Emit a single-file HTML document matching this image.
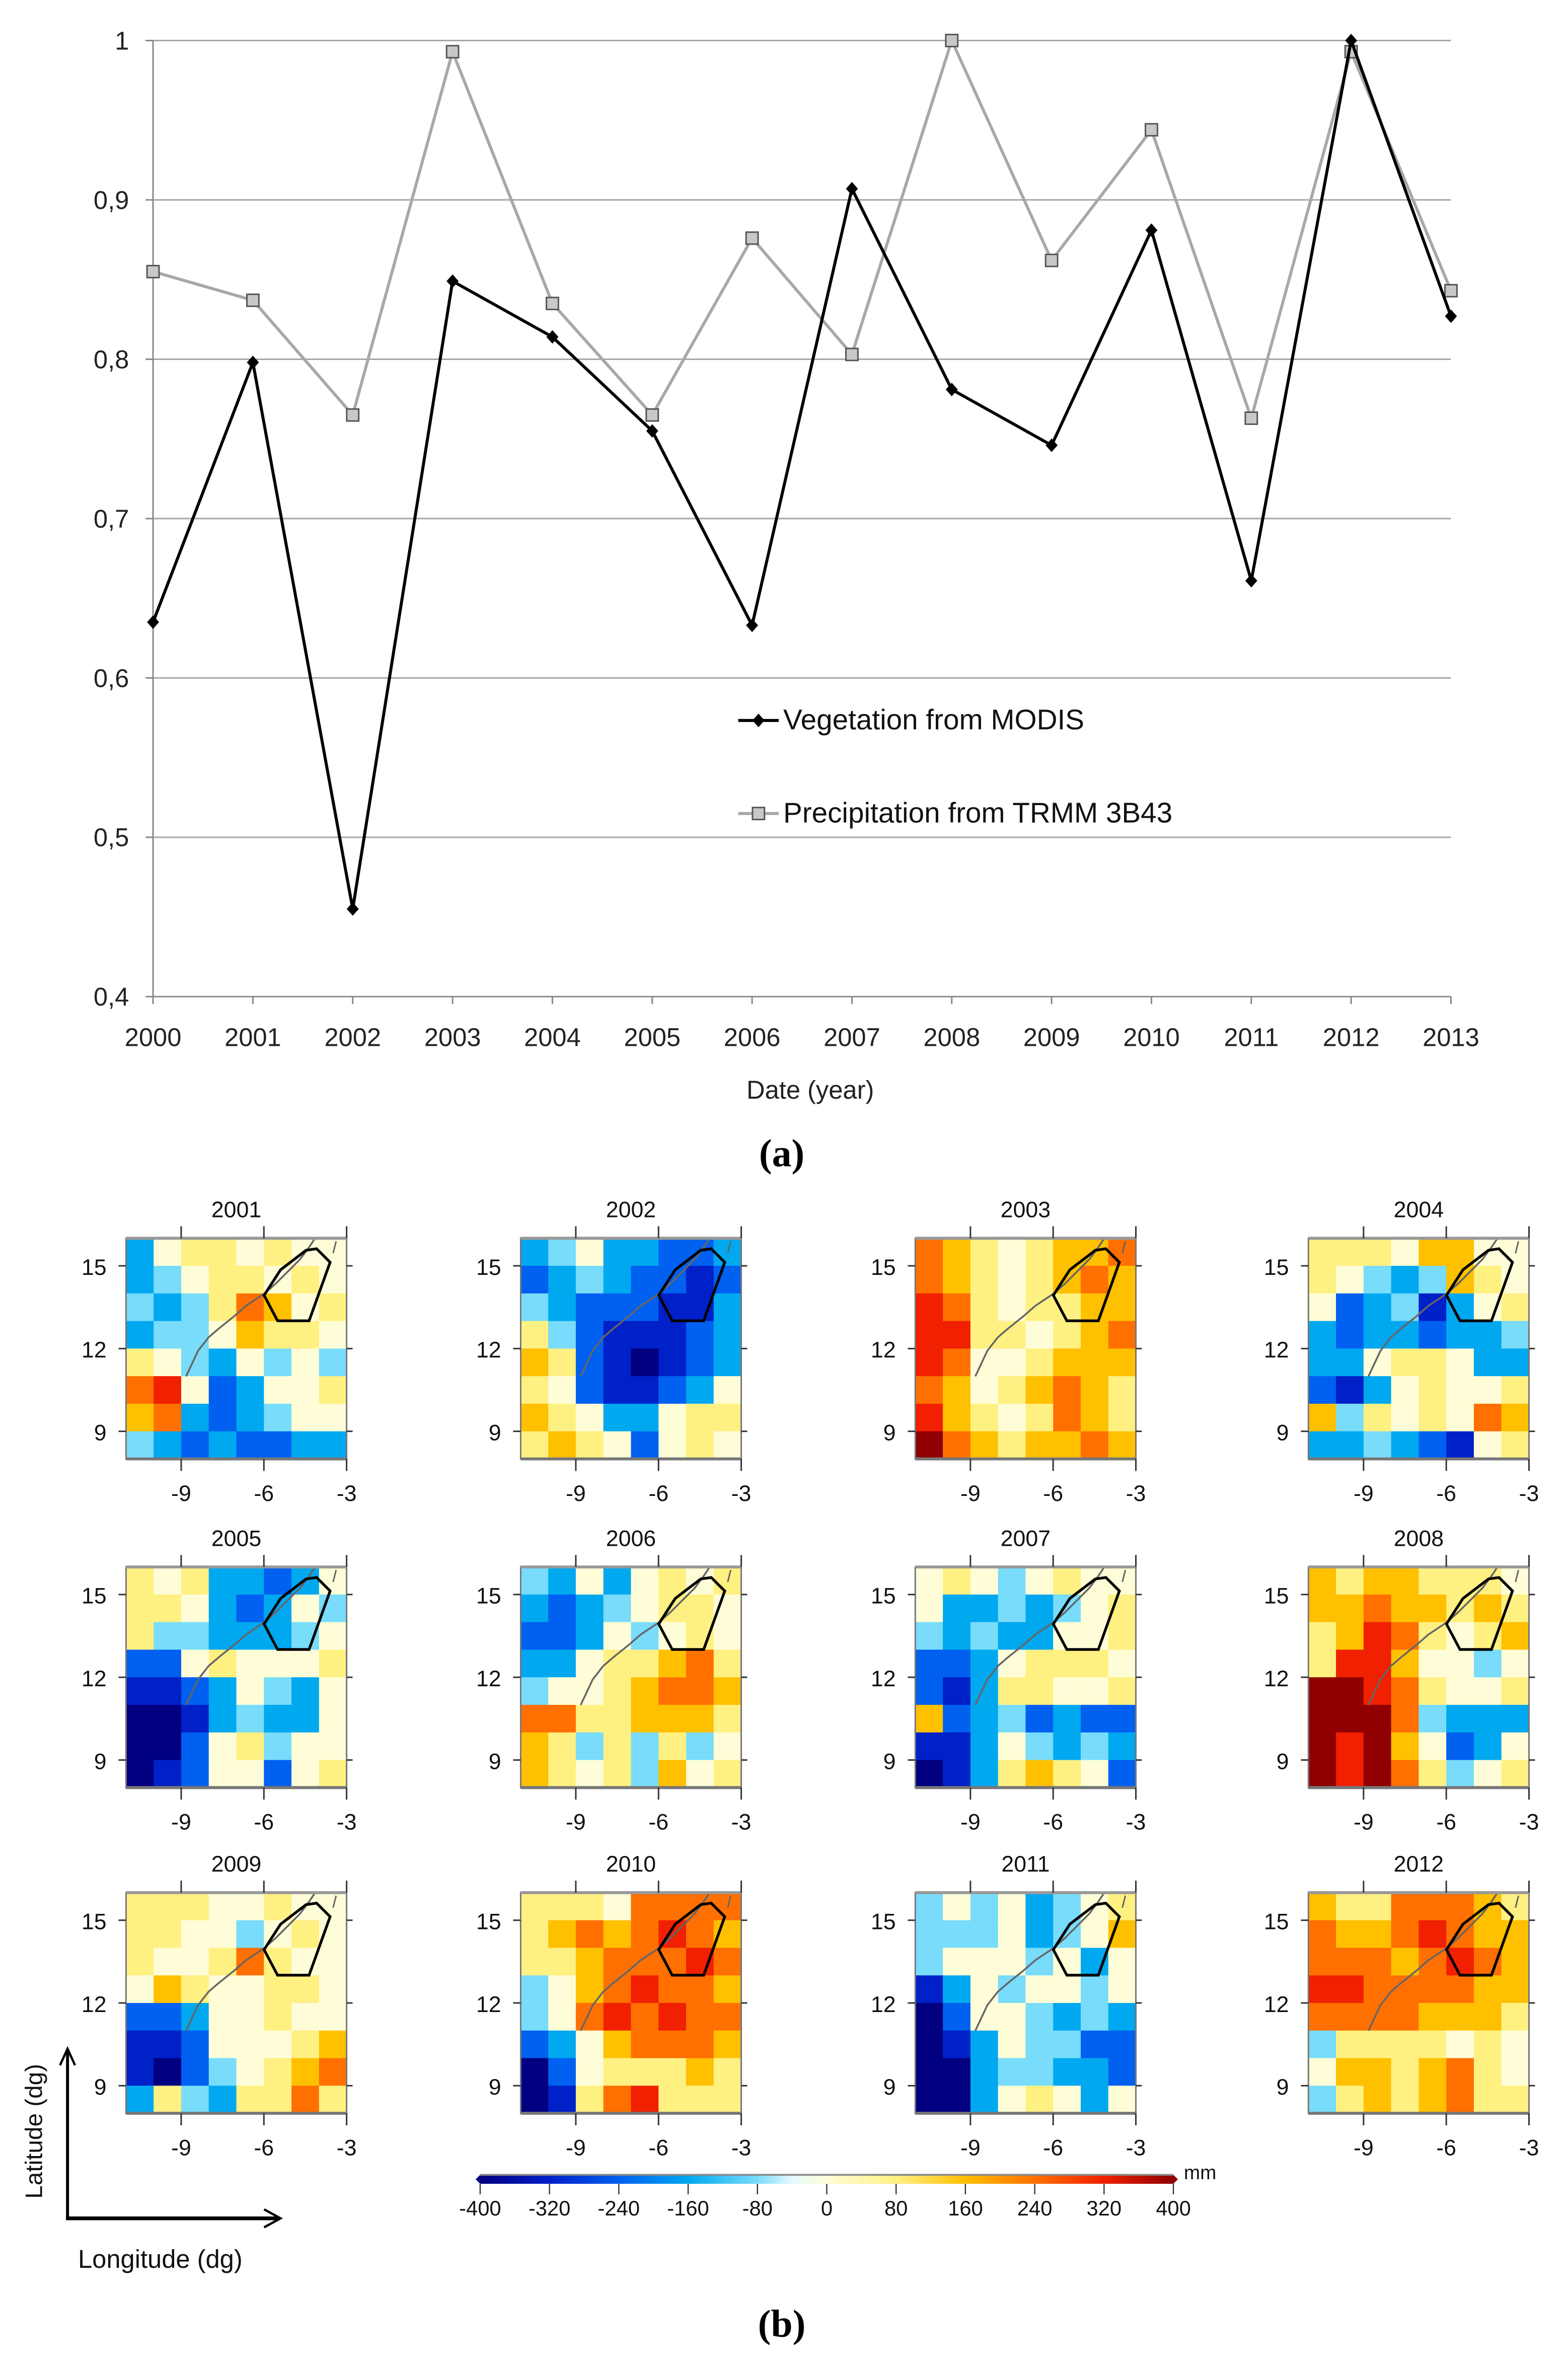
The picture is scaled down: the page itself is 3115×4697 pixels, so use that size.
<!DOCTYPE html>
<html><head><meta charset="utf-8">
<style>
html,body{margin:0;padding:0;background:#fff;}
svg{display:block;}
text{font-family:"Liberation Sans",sans-serif;}
text.serif{font-family:"Liberation Serif",serif;}
</style></head>
<body>
<svg id="fig" xmlns="http://www.w3.org/2000/svg" width="3115" height="4697" viewBox="0 0 1045 1575.7">
<rect x="0" y="0" width="1045" height="1576" fill="#fff"/>
<g id="chartA"></g>
<g id="maps"></g>
</svg>
<script>
// ---- Chart (a) data ----
const years = [2000,2001,2002,2003,2004,2005,2006,2007,2008,2009,2010,2011,2012,2013];
const vegetation = [0.635,0.798,0.455,0.849,0.814,0.755,0.633,0.907,0.781,0.746,0.881,0.661,1.0,0.827];
const precipitation = [0.855,0.837,0.765,0.993,0.835,0.765,0.876,0.803,1.0,0.862,0.944,0.763,0.993,0.843];
const yTicks = [0.4,0.5,0.6,0.7,0.8,0.9,1.0];
const yTickLabels = ["0,4","0,5","0,6","0,7","0,8","0,9","1"];

// ---- Maps (b) data: 8x8 anomaly grids (units of 80 mm), rows north->south ----
const mapYears = [2001,2002,2003,2004,2005,2006,2007,2008,2009,2010,2011,2012];
const grid2001 = [[-2,0,1,1,0,1,0,0],[-2,-1,0,1,1,0,1,0],[-1,-2,-1,1,3,2,0,1],[-2,-1,-1,0,2,1,1,0],[1,0,-1,-2,0,-1,0,-1],[3,4,0,-3,-2,0,0,1],[2,3,-2,-3,-2,-1,0,0],[-1,-2,-3,-2,-3,-3,-2,-2]];
const grid2002 = [[-2,-1,0,-2,-2,-3,-3,-2],[-3,-2,-1,-2,-3,-3,-4,-3],[-1,-2,-3,-3,-3,-4,-4,-2],[1,-1,-3,-4,-4,-4,-3,-2],[2,1,-3,-4,-5,-4,-3,-2],[1,0,-3,-4,-4,-3,-2,0],[2,1,0,-2,-2,0,1,1],[1,2,1,0,-3,0,1,0]];
const grid2003 = [[3,2,1,0,1,2,2,3],[3,2,1,0,1,2,3,2],[4,3,1,0,1,1,2,2],[4,4,1,1,0,1,2,3],[4,3,0,0,1,2,2,2],[3,2,0,1,2,3,2,1],[4,2,1,0,1,3,2,1],[5,3,2,1,2,2,3,2]];
const grid2004 = [[1,1,1,0,2,2,0,0],[1,0,-1,-2,-1,2,1,0],[0,-3,-2,-1,-4,-2,0,1],[-2,-3,-2,-2,-3,-2,-2,-1],[-2,-2,0,1,1,0,-2,-2],[-3,-4,-2,0,1,0,0,1],[2,-1,1,0,1,0,3,2],[-2,-2,-1,-2,-3,-4,0,1]];
const grid2005 = [[1,0,1,-2,-2,-3,-2,0],[1,1,0,-2,-3,-2,0,-1],[1,-1,-1,-2,-2,-2,-1,0],[-3,-3,0,1,0,0,0,1],[-4,-4,-3,-2,0,-1,-2,0],[-5,-5,-4,-2,-1,-2,-2,0],[-5,-5,-3,0,1,-1,0,0],[-5,-4,-3,0,0,-3,0,1]];
const grid2006 = [[-1,-2,0,-2,0,1,0,1],[-2,-3,-2,-1,0,1,1,0],[-3,-3,-2,0,-1,0,1,0],[-2,-2,0,1,1,2,3,1],[-1,0,0,1,2,3,3,2],[3,3,1,1,2,2,2,1],[2,1,-1,1,-1,1,-1,0],[2,1,0,1,-1,2,0,1]];
const grid2007 = [[0,1,0,-1,0,1,0,0],[0,-2,-2,-1,-2,-1,0,1],[-1,-2,-1,-2,-2,0,0,1],[-3,-3,-2,0,1,1,1,0],[-3,-4,-2,1,1,0,0,1],[2,-3,-2,-1,-3,-2,-3,-3],[-4,-4,-2,0,-1,-2,-1,-2],[-5,-4,-2,1,2,1,0,-3]];
const grid2008 = [[2,1,2,2,1,1,1,0],[2,2,3,2,2,1,2,1],[1,2,4,3,1,0,1,2],[1,4,4,2,0,0,-1,0],[5,5,4,3,1,0,0,1],[5,5,5,3,-1,-2,-2,-2],[5,4,5,2,0,-3,-2,0],[5,4,5,3,1,-1,0,1]];
const grid2009 = [[1,1,1,0,0,1,0,0],[1,1,0,0,-1,0,1,0],[1,0,0,1,3,1,0,0],[0,2,1,0,0,1,1,0],[-3,-3,-2,0,0,1,0,0],[-4,-4,-3,0,0,0,1,2],[-4,-5,-3,-1,0,1,2,3],[-2,1,-1,-2,1,1,3,1]];
const grid2010 = [[1,1,1,0,3,3,3,3],[1,2,3,2,3,4,3,2],[1,1,2,3,3,3,4,3],[-1,0,2,3,4,3,3,2],[-1,0,3,4,3,4,3,3],[-3,-2,0,2,3,3,3,2],[-5,-3,0,1,1,1,2,1],[-5,-4,1,3,4,1,1,1]];
const grid2011 = [[-1,0,-1,0,-2,-1,0,1],[-1,-1,-1,0,-2,-1,0,2],[-1,0,0,0,-1,0,-2,0],[-4,-2,0,-1,0,0,-1,0],[-5,-3,0,0,-1,-2,-1,-2],[-5,-4,-2,0,-1,-1,-3,-3],[-5,-5,-2,-1,-1,-2,-2,-3],[-5,-5,-2,0,1,0,-2,0]];
const grid2012 = [[2,1,1,3,3,3,2,1],[3,2,2,3,4,3,2,2],[3,3,3,2,3,4,3,2],[4,4,3,3,3,3,2,2],[3,3,3,3,2,2,2,1],[-1,1,1,1,1,0,1,0],[0,2,2,1,2,3,1,0],[-1,1,2,1,2,3,1,1]];
const grids = [grid2001,grid2002,grid2003,grid2004,grid2005,grid2006,grid2007,grid2008,grid2009,grid2010,grid2011,grid2012];
const lonTicks = [-9,-6,-3];
const latTicks = [15,12,9];
const cbarTicks = [-400,-320,-240,-160,-80,0,80,160,240,320,400];

const NS="http://www.w3.org/2000/svg";
function mk(tag, attrs, parent){const e=document.createElementNS(NS,tag);for(const k in attrs)e.setAttribute(k,attrs[k]);parent.appendChild(e);return e;}

// ---------- Chart (a) ----------
const A=document.getElementById('chartA');
const x0=102,x1=967,yTop=27,yBot=664;
const xs=i=>x0+(x1-x0)*i/(years.length-1);
const ys=v=>yBot-(v-0.4)/(1.0-0.4)*(yBot-yTop);
yTicks.forEach((t,i)=>{
  const g=mk('line',{x1:x0,x2:x1,y1:ys(t),y2:ys(t),stroke:i===0?'#888':'#a6a6a6','stroke-width':1},A);
  
  
  const tk=mk('line',{x1:x0-5,x2:x0,y1:ys(t),y2:ys(t),stroke:'#888','stroke-width':1},A);
  
  
  const tx=mk('text',{x:x0-16,y:ys(t)+6,'text-anchor':'end','font-size':17,fill:'#222'},A);
  tx.textContent=yTickLabels[i];
  
  
});
const yax=mk('line',{x1:x0,x2:x0,y1:yTop,y2:yBot,stroke:'#888','stroke-width':1},A);


years.forEach((yr,i)=>{
  const tk=mk('line',{x1:xs(i),x2:xs(i),y1:yBot,y2:yBot+5,stroke:'#888'},A);
  
  
  const t=mk('text',{x:xs(i),y:yBot+33,'text-anchor':'middle','font-size':17,fill:'#222'},A);
  t.textContent=yr;
  
  
});
const xt=mk('text',{x:540,y:732,'text-anchor':'middle','font-size':17,fill:'#222'},A);
xt.textContent='Date (year)';



function series(vals,color,marker,name){
  const pts=vals.map((v,i)=>xs(i)+','+ys(v)).join(' ');
  const pl=mk('polyline',{points:pts,fill:'none',stroke:color,'stroke-width':2},A);
  
  
  vals.forEach((v,i)=>{
    let m;
    if(marker==='diamond'){
      const cx=xs(i),cy=ys(v);
      m=mk('polygon',{points:`${cx},${cy-4.5} ${cx+4},${cy} ${cx},${cy+4.5} ${cx-4},${cy}`,fill:'#000'},A);
    }else{
      m=mk('rect',{x:xs(i)-4,y:ys(v)-4,width:8,height:8,fill:'#c8c8c8',stroke:'#555','stroke-width':1},A);
    }
    
    
  });
}
series(precipitation,'#a8a8a8','square','precipitation');
series(vegetation,'#000','diamond','vegetation');

// legend
const lg1=mk('g',{},A);


mk('line',{x1:492,x2:519,y1:480,y2:480,stroke:'#000','stroke-width':2},lg1);
mk('polygon',{points:'505.5,475.5 509.5,480 505.5,484.5 501.5,480',fill:'#000'},lg1);
const l1=mk('text',{x:522,y:486,'font-size':19,fill:'#111'},lg1);l1.textContent='Vegetation from MODIS';
const lg2=mk('g',{},A);


mk('line',{x1:492,x2:519,y1:542,y2:542,stroke:'#a8a8a8','stroke-width':2},lg2);
mk('rect',{x:501.5,y:538,width:8,height:8,fill:'#c8c8c8',stroke:'#555'},lg2);
const l2=mk('text',{x:522,y:548,'font-size':19,fill:'#111'},lg2);l2.textContent='Precipitation from TRMM 3B43';
const pa=mk('text',{x:521,y:777,'text-anchor':'middle','font-size':26,'font-weight':'bold',fill:'#000','class':'serif'},A);
pa.textContent='(a)';



// ---------- Maps (b) ----------
const stops=[[-400,[0,0,128]],[-320,[0,32,200]],[-240,[0,96,240]],[-160,[0,168,240]],[-80,[120,220,250]],[-40,[230,250,255]],[0,[255,253,215]],[80,[255,240,130]],[160,[255,192,0]],[240,[255,112,0]],[320,[240,32,0]],[400,[144,0,0]]];
function col(mm){
  mm=Math.max(-400,Math.min(400,mm));
  for(let i=0;i<stops.length-1;i++){
    const [a,ca]=stops[i],[b,cb]=stops[i+1];
    if(mm>=a&&mm<=b){const t=(mm-a)/(b-a);return 'rgb('+ca.map((c,k)=>Math.round(c+(cb[k]-c)*t)).join(',')+')';}
  }
  return '#fff';
}
const M=document.getElementById('maps');
const colX=[84,347,610,872], rowY=[825,1044,1261], S=147;
const lonToX=(lon,px)=>px+(lon+11)/8*S;
const latToY=(lat,py)=>py+(16-lat)/8*S;
mapYears.forEach((yr,idx)=>{
  const px=colX[idx%4], py=rowY[Math.floor(idx/4)];
  const g=mk('g',{},M);
  
  
  const grid=grids[idx], n=grid.length, cw=S/grid[0].length, ch=S/n;
  grid.forEach((row,r)=>row.forEach((v,c)=>{
    const cell=mk('rect',{x:px+c*cw,y:py+r*ch,width:cw+0.3,height:ch+0.3,fill:col(v*80)},g);
    
    
  }));
  mk('polyline',{points:[[40,92],[48,75],[55,66],[62,60],[72,52],[80,45],[92,37],[100,30],[108,22],[116,14],[122,6],[126,0]].map(p=>(px+p[0])+','+(py+p[1])).join(' '),fill:'none',stroke:'#666','stroke-width':1.2},g);
  mk('polyline',{points:[[140,2],[138,10]].map(p=>(px+p[0])+','+(py+p[1])).join(' '),fill:'none',stroke:'#666','stroke-width':1},g);
  const poly=mk('polygon',{points:[[127,7],[136,16],[122,55],[101,55],[92,38],[103,21],[120,8]].map(p=>(px+p[0])+','+(py+p[1])).join(' '),fill:'none',stroke:'#000','stroke-width':1.8},g);
  
  
  mk('rect',{x:px,y:py,width:S,height:S,fill:'none',stroke:'#777','stroke-width':1},g);
  mk('line',{x1:px,x2:px+S,y1:py,y2:py,stroke:'#999','stroke-width':2},g);
  mk('line',{x1:px,x2:px+S,y1:py+S,y2:py+S,stroke:'#777','stroke-width':2},g);
  lonTicks.forEach(l=>{
    const x=lonToX(l,px);
    mk('line',{x1:x,x2:x,y1:py+S,y2:py+S+8,stroke:'#333'},g);
    mk('line',{x1:x,x2:x,y1:py-8,y2:py,stroke:'#333'},g);
    const t=mk('text',{x:x,y:py+S+28,'text-anchor':'middle','font-size':15,fill:'#111'},g);t.textContent=l;
  });
  latTicks.forEach(l=>{
    const y=latToY(l,py);
    mk('line',{x1:px-5,x2:px,y1:y,y2:y,stroke:'#333'},g);
    mk('line',{x1:px+S,x2:px+S+4,y1:y,y2:y,stroke:'#333'},g);
    const t=mk('text',{x:px-13,y:y+6,'text-anchor':'end','font-size':15,fill:'#111'},g);t.textContent=l;
  });
  const tt=mk('text',{x:px+S/2,y:py-14,'text-anchor':'middle','font-size':15,fill:'#111'},g);
  tt.textContent=yr;
  
  
});

// colorbar
const CB=mk('g',{},M);


const defs=mk('defs',{},CB);
const lgr=mk('linearGradient',{id:'cbg',x1:0,x2:1,y1:0,y2:0},defs);
stops.forEach(s=>mk('stop',{offset:((s[0]+400)/800),'stop-color':col(s[0])},lgr));
const cbx0=320,cbx1=782,cby=1449;
mk('rect',{x:cbx0,y:cby,width:cbx1-cbx0,height:6,fill:'url(#cbg)'},CB);
mk('line',{x1:cbx0,x2:cbx1,y1:cby,y2:cby,stroke:'#888',"stroke-width":1.2},CB);
mk('polygon',{points:`${cbx0},${cby} ${cbx0-3},${cby+3} ${cbx0},${cby+6}`,fill:'#000080'},CB);
mk('polygon',{points:`${cbx1},${cby} ${cbx1+3},${cby+3} ${cbx1},${cby+6}`,fill:'#900000'},CB);
cbarTicks.forEach(v=>{
  const x=cbx0+(v+400)/800*(cbx1-cbx0);
  mk('line',{x1:x,x2:x,y1:cby+6,y2:cby+13,stroke:'#333','stroke-width':0.8},CB);
  const t=mk('text',{x:x,y:cby+27,'text-anchor':'middle','font-size':14,fill:'#111'},CB);t.textContent=v;
});
const mmT=mk('text',{x:789,y:1452,'font-size':13,fill:'#111'},CB);mmT.textContent='mm';

// axes guide
const AX=mk('g',{},M);


mk('line',{x1:45,x2:45,y1:1479,y2:1367,stroke:'#000','stroke-width':2},AX);
mk('polyline',{points:'40,1376 45,1365 50,1376',fill:'none',stroke:'#000','stroke-width':1.5},AX);
mk('line',{x1:44,x2:186,y1:1478,y2:1478,stroke:'#000','stroke-width':2.5},AX);
mk('polyline',{points:'176,1472 187,1478 176,1484',fill:'none',stroke:'#000','stroke-width':1.5},AX);
const lat=mk('text',{x:0,y:0,transform:'translate(28,1420) rotate(-90)','text-anchor':'middle','font-size':16,fill:'#111'},AX);lat.textContent='Latitude (dg)';
const lon=mk('text',{x:52,y:1511,'font-size':17,fill:'#111'},AX);lon.textContent='Longitude (dg)';
const pb=mk('text',{x:521,y:1557,'text-anchor':'middle','font-size':26,'font-weight':'bold',fill:'#000','class':'serif'},M);
pb.textContent='(b)';


</script>
</body></html>
